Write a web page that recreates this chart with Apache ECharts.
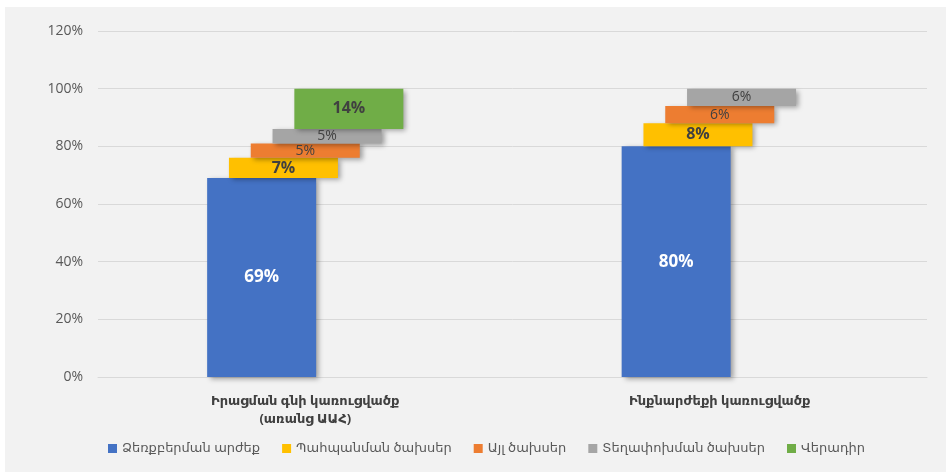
<!DOCTYPE html>
<html>
<head>
<meta charset="utf-8">
<script src="https://cdn.jsdelivr.net/npm/echarts@6/dist/echarts.min.js"></script>
<style>
  html, body { margin: 0; padding: 0; background: #ffffff; }
  #chart { width: 946px; height: 472px; }
</style>
</head>
<body>
<div id="chart"></div>
<script>
// Categories (x axis)
const categories = ['Իրացման գնի կառուցվածք\n(առանց ԱԱՀ)', 'Ինքնարժեքի կառուցվածք'];

// Cost components, percent of total
const acquisition = [69, 80];   // Ձեռքբերման արժեք
const storage     = [7, 8];     // Պահպանման ծախսեր
const otherCosts  = [5, 6];     // Այլ ծախսեր
const transport   = [5, 6];     // Տեղափոխման ծախսեր
const markup      = [14, null]; // Վերադիր

// Y axis ticks
const yTicks = [0, 20, 40, 60, 80, 100, 120];

const seriesNames = ['Ձեռքբերման արժեք', 'Պահպանման ծախսեր', 'Այլ ծախսեր', 'Տեղափոխման ծախսեր', 'Վերադիր'];
const colors = ['#4472c4', '#ffc000', '#ed7d31', '#a5a5a5', '#70ad47'];

const FONT = '"Open Sans", "DejaVu Sans", sans-serif';

const parts = [acquisition, storage, otherCosts, transport, markup];

// floating base of each step = sum of the preceding components
function baseFor(idx) {
  return categories.map((_, c) => {
    if (parts[idx][c] == null) return null;
    let s = 0;
    for (let k = 0; k < idx; k++) s += parts[k][c] || 0;
    return s;
  });
}

const labelStyles = [
  { color: '#ffffff', fontSize: 17, fontWeight: 'bold' },
  { color: '#404040', fontSize: 16, fontWeight: 'bold' },
  { color: '#404040', fontSize: 14, fontWeight: 'normal' },
  { color: '#404040', fontSize: 14, fontWeight: 'normal' },
  { color: '#404040', fontSize: 16, fontWeight: 'bold' }
];

const series = [];
parts.forEach((vals, i) => {
  const stack = 'step' + i;
  if (i > 0) {
    series.push({
      name: 'base' + i,
      type: 'bar',
      stack: stack,
      data: baseFor(i),
      itemStyle: { color: 'transparent' },
      silent: true,
      barWidth: 109,
      barGap: '-80%'
    });
  }
  series.push({
    name: seriesNames[i],
    type: 'bar',
    stack: stack,
    data: vals,
    barWidth: 109,
    barGap: '-80%',
    itemStyle: {
      color: colors[i],
      shadowColor: 'rgba(0,0,0,0.35)',
      shadowBlur: 5,
      shadowOffsetX: 3,
      shadowOffsetY: 2
    },
    label: Object.assign({
      show: true,
      position: 'inside',
      fontFamily: FONT,
      formatter: p => p.value + '%'
    }, labelStyles[i])
  });
});

const chart = echarts.init(document.getElementById('chart'));
chart.setOption({
  animation: false,
  backgroundColor: '#ffffff',
  graphic: [{
    type: 'rect',
    z: -10,
    shape: { x: 5, y: 7, width: 941, height: 465 },
    style: { fill: '#f2f2f2' }
  }],
  color: colors,
  grid: { left: 98, right: 19, top: 31, bottom: 95 },
  legend: {
    data: seriesNames,
    bottom: 12,
    left: 103,
    itemWidth: 9,
    itemHeight: 9,
    itemGap: 22,
    icon: 'rect',
    textStyle: { color: '#595959', fontSize: 13, fontFamily: FONT }
  },
  xAxis: {
    type: 'category',
    data: categories,
    axisLine: { lineStyle: { color: '#d9d9d9' } },
    axisTick: { show: false },
    axisLabel: {
      color: '#404040',
      fontSize: 13,
      fontWeight: 'bold',
      fontFamily: FONT,
      margin: 15,
      lineHeight: 18
    }
  },
  yAxis: {
    type: 'value',
    min: yTicks[0],
    max: yTicks[yTicks.length - 1],
    interval: yTicks[1] - yTicks[0],
    axisLine: { show: false },
    axisTick: { show: false },
    splitLine: { lineStyle: { color: '#d9d9d9' } },
    axisLabel: {
      color: '#595959',
      fontSize: 14,
      fontFamily: FONT,
      margin: 15,
      formatter: '{value}%'
    }
  },
  series: series
});
</script>
</body>
</html>
